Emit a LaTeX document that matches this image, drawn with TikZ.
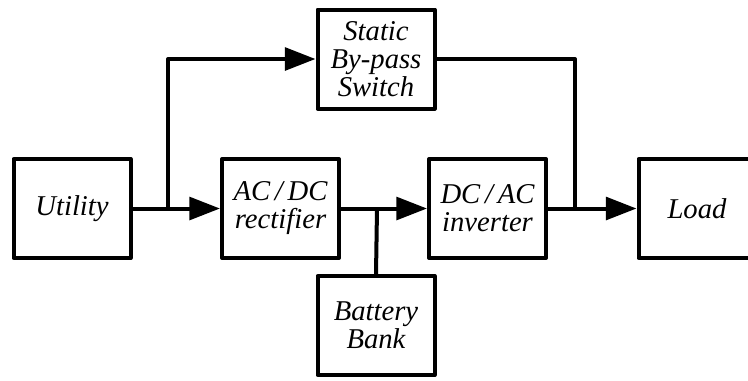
\documentclass[tikz,border=0pt]{standalone}
\usepackage{fontspec}
\newfontfamily\tms[ItalicFont={Liberation Serif Italic}]{Liberation Serif}
\usetikzlibrary{arrows.meta}
\begin{document}
\begin{tikzpicture}[x=0.75pt,y=-0.75pt,
  blk/.style={draw,line width=3pt,line join=round,minimum width=87.75pt,minimum height=74.25pt,
    inner sep=0pt,align=center,font=\tms\fontsize{21.5}{21}\selectfont\itshape},
  wire/.style={line width=3pt},
  arr/.style={wire,-{Triangle[length=23pt,width=17pt]}}]
\useasboundingbox (0,0) rectangle (748,380);
\clip (0,0) rectangle (748,380);
\node[blk] (util) at (72,208.5) {Utility};
\node[blk] (acdc) at (280.5,208.5) {AC\,/\,DC\\rectifier};
\node[blk] (dcac) at (487.5,208.5) {DC\,/\,AC\\inverter};
\node[blk] (load) at (697,208.5) {Load};
\node[blk] (sbs) at (376,59) {Static\\By-pass\\Switch};
\node[blk] (bat) at (376,325.5) {Battery\\Bank};
\coordinate (j1) at (168,208.5);
\coordinate (j2) at (377,208.5);
\coordinate (j3) at (575,208.5);
\draw[arr] (util.east) -- (acdc.west);
\draw[arr] (acdc.east) -- (dcac.west);
\draw[arr] (dcac.east) -- (load.west);
\draw[arr,line join=round] (j1) |- (sbs.west);
\draw[wire,line join=round] (sbs.east) -| (j3);
\draw[wire] (bat.north) -- (j2);
\end{tikzpicture}
\end{document}
